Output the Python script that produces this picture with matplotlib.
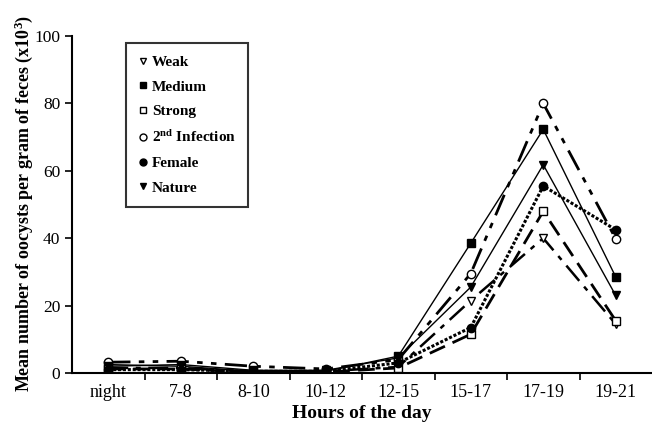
import numpy as np
import matplotlib.pyplot as plt
from matplotlib.lines import Line2D
from matplotlib.ticker import FixedLocator

plt.rcParams['font.family'] = 'Liberation Serif'
plt.rcParams['mathtext.default'] = 'regular'

# -----------------------------
# DATA
# -----------------------------
hours = ['night', '7-8', '8-10', '10-12', '12-15', '15-17', '17-19', '19-21']
weak = [1.5, 1.5, 0.3, 0.5, 1.8, 21.5, 40.0, 14.5]
medium = [2.5, 2.0, 0.5, 0.5, 5.0, 38.5, 72.3, 28.5]
strong = [1.2, 1.2, 0.2, 0.3, 1.5, 11.5, 48.0, 15.5]
second = [3.2, 3.5, 2.0, 1.2, 4.0, 29.5, 80.0, 39.8]
female = [1.0, 1.0, 0.5, 0.5, 3.0, 13.5, 55.5, 42.5]
nature = [2.0, 2.5, 0.8, 0.8, 4.5, 25.5, 61.8, 23.0]

x = np.arange(len(hours))

# -----------------------------
# PLOT
# -----------------------------
fig = plt.figure(figsize=(6.52, 4.25), dpi=100)
ax = fig.add_axes([72/652, 1-373/425, 580/652, 337/425])

series = [
    ('Weak', weak, 'v', 'white', (0, (8, 3, 2, 3)), 1.8),
    ('Medium', medium, 's', 'black', '-', 1.0),
    ('Strong', strong, 's', 'white', (0, (6, 3)), 2.0),
    ('2$^{nd}$ Infection', second, 'o', 'white', (0, (8, 3, 2, 3, 2, 3)), 2.0),
    ('Female', female, 'o', 'black', (0, (1, 0.6)), 2.2),
    ('Nature', nature, 'v', 'black', '-', 1.0),
]

handles = []
for name, vals, mk, fc, ls, lw in series:
    ax.plot(x, vals, color='black', linestyle=ls, linewidth=lw,
            marker=mk, markersize=6, markerfacecolor=fc,
            markeredgecolor='black', markeredgewidth=1.0)
    handles.append(Line2D([], [], linestyle='none', marker=mk, markersize=5,
                          markerfacecolor=fc, markeredgecolor='black',
                          markeredgewidth=1.0, label=name))

ax.set_xlim(-0.5, 7.5)
ax.set_ylim(0, 100)
ax.set_yticks([0, 20, 40, 60, 80, 100])
ax.set_xticks(x)
ax.set_xticklabels(hours)
ax.xaxis.set_minor_locator(FixedLocator(np.arange(0.5, 7, 1)))
ax.tick_params(axis='x', which='major', length=0, labelsize=13, pad=8)
ax.tick_params(axis='x', which='minor', length=5, width=1.2, direction='out')
ax.tick_params(axis='y', length=5, width=1.2, direction='out', labelsize=12.5)

for s in ['top', 'right']:
    ax.spines[s].set_visible(False)
for s in ['left', 'bottom']:
    ax.spines[s].set_linewidth(1.5)

ax.set_xlabel('Hours of the day', fontsize=14, fontweight='bold', labelpad=3)
fig.text(24/652, 1-392/425, 'Mean number of oocysts per gram of feces (x10$^{3}$)',
         rotation=90, ha='center', va='bottom', fontsize=13, fontweight='bold')

leg = ax.legend(handles=handles, loc='upper left',
                bbox_to_anchor=(126/652, 1-43/425), bbox_transform=fig.transFigure,
                frameon=True, fancybox=False, edgecolor='black',
                prop={'weight': 'bold', 'size': 11},
                handlelength=0.6, handletextpad=0.3, labelspacing=0.72,
                borderpad=0.8, borderaxespad=0)
leg.get_frame().set_linewidth(1.5)

fig.savefig('out.png', dpi=100)
